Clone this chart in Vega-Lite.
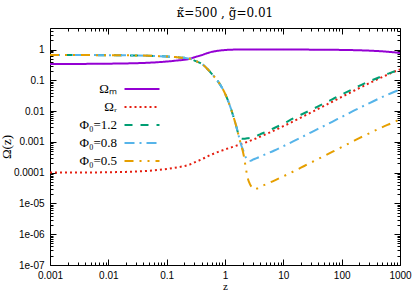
{
  "$schema": "https://vega.github.io/schema/vega-lite/v6.json",
  "width": 350,
  "height": 237,
  "autosize": {"type": "none"},
  "padding": {"left": 50, "top": 28, "right": 15, "bottom": 26},
  "background": "white",
  "title": {"text": "κ̃=500 , g̃=0.01", "font": "DejaVu Serif", "fontSize": 12, "fontWeight": "normal", "color": "black", "offset": 6, "anchor": "middle", "frame": "group"},
  "config": {
    "view": {"stroke": "black", "strokeWidth": 1},
    "axis": {"domain": false, "grid": false, "labelFont": "Liberation Sans", "labelFontSize": 10, "labelColor": "black", "tickColor": "black", "tickWidth": 1, "titleFont": "Liberation Serif", "titleFontSize": 13, "titleFontWeight": "normal", "titleColor": "black", "labelFlush": false, "labelOverlap": false},
    "legend": {"orient": "none", "legendX": 82, "legendY": 51, "title": null, "symbolType": "M-2,0H2", "symbolSize": 306, "symbolStrokeWidth": 2, "labelFont": "Liberation Serif", "labelFontSize": 13, "labelColor": "black", "labelAlign": "right", "labelOffset": -35, "rowPadding": 1, "padding": 0}
  },
  "data": {"values": [
    {"s":"Ωₘ","z":0.001,"v":0.341},{"s":"Ωₘ","z":0.002,"v":0.341},{"s":"Ωₘ","z":0.005,"v":0.342},{"s":"Ωₘ","z":0.01,"v":0.347},{"s":"Ωₘ","z":0.02,"v":0.353},{"s":"Ωₘ","z":0.05,"v":0.373},{"s":"Ωₘ","z":0.1,"v":0.407},{"s":"Ωₘ","z":0.15,"v":0.439},{"s":"Ωₘ","z":0.2,"v":0.463},{"s":"Ωₘ","z":0.25,"v":0.499},{"s":"Ωₘ","z":0.3,"v":0.563},{"s":"Ωₘ","z":0.35,"v":0.611},{"s":"Ωₘ","z":0.4,"v":0.659},{"s":"Ωₘ","z":0.5,"v":0.766},{"s":"Ωₘ","z":0.6,"v":0.842},{"s":"Ωₘ","z":0.7,"v":0.888},{"s":"Ωₘ","z":0.8,"v":0.920},{"s":"Ωₘ","z":0.9,"v":0.945},{"s":"Ωₘ","z":1.0,"v":0.963},{"s":"Ωₘ","z":1.1,"v":0.975},{"s":"Ωₘ","z":1.2,"v":0.984},{"s":"Ωₘ","z":1.5,"v":0.995},{"s":"Ωₘ","z":2,"v":0.999},{"s":"Ωₘ","z":3,"v":0.999},{"s":"Ωₘ","z":5,"v":0.998},{"s":"Ωₘ","z":7,"v":0.998},{"s":"Ωₘ","z":10,"v":0.997},{"s":"Ωₘ","z":15,"v":0.995},{"s":"Ωₘ","z":20,"v":0.994},{"s":"Ωₘ","z":30,"v":0.991},{"s":"Ωₘ","z":50,"v":0.985},{"s":"Ωₘ","z":70,"v":0.980},{"s":"Ωₘ","z":100,"v":0.971},{"s":"Ωₘ","z":150,"v":0.957},{"s":"Ωₘ","z":200,"v":0.944},{"s":"Ωₘ","z":300,"v":0.919},{"s":"Ωₘ","z":500,"v":0.872},{"s":"Ωₘ","z":700,"v":0.829},{"s":"Ωₘ","z":1000,"v":0.773},
    {"s":"Ωᵣ","z":0.001,"v":0.0001004},{"s":"Ωᵣ","z":0.002,"v":0.0001005},{"s":"Ωᵣ","z":0.005,"v":0.0001011},{"s":"Ωᵣ","z":0.01,"v":0.0001031},{"s":"Ωᵣ","z":0.02,"v":0.0001059},{"s":"Ωᵣ","z":0.05,"v":0.0001152},{"s":"Ωᵣ","z":0.1,"v":0.0001317},{"s":"Ωᵣ","z":0.15,"v":0.0001485},{"s":"Ωᵣ","z":0.2,"v":0.0001634},{"s":"Ωᵣ","z":0.25,"v":0.0001835},{"s":"Ωᵣ","z":0.3,"v":0.0002153},{"s":"Ωᵣ","z":0.35,"v":0.0002426},{"s":"Ωᵣ","z":0.4,"v":0.0002714},{"s":"Ωᵣ","z":0.5,"v":0.0003379},{"s":"Ωᵣ","z":0.6,"v":0.0003962},{"s":"Ωᵣ","z":0.7,"v":0.000444},{"s":"Ωᵣ","z":0.8,"v":0.000487},{"s":"Ωᵣ","z":0.9,"v":0.000528},{"s":"Ωᵣ","z":1.0,"v":0.0005674},{"s":"Ωᵣ","z":1.2,"v":0.0006368},{"s":"Ωᵣ","z":1.5,"v":0.000732},{"s":"Ωᵣ","z":2,"v":0.000881},{"s":"Ωᵣ","z":3,"v":0.001175},{"s":"Ωᵣ","z":5,"v":0.001762},{"s":"Ωᵣ","z":7,"v":0.002347},{"s":"Ωᵣ","z":10,"v":0.003225},{"s":"Ωᵣ","z":15,"v":0.004684},{"s":"Ωᵣ","z":20,"v":0.006139},{"s":"Ωᵣ","z":30,"v":0.009035},{"s":"Ωᵣ","z":50,"v":0.01478},{"s":"Ωᵣ","z":70,"v":0.02046},{"s":"Ωᵣ","z":100,"v":0.02885},{"s":"Ωᵣ","z":150,"v":0.04252},{"s":"Ωᵣ","z":200,"v":0.05582},{"s":"Ωᵣ","z":300,"v":0.08133},{"s":"Ωᵣ","z":500,"v":0.1284},{"s":"Ωᵣ","z":700,"v":0.1709},{"s":"Ωᵣ","z":1000,"v":0.2274},
    {"s":"Φ₀=1.2","z":0.001,"v":0.659},{"s":"Φ₀=1.2","z":0.002,"v":0.659},{"s":"Φ₀=1.2","z":0.005,"v":0.658},{"s":"Φ₀=1.2","z":0.01,"v":0.653},{"s":"Φ₀=1.2","z":0.02,"v":0.647},{"s":"Φ₀=1.2","z":0.03,"v":0.641},{"s":"Φ₀=1.2","z":0.05,"v":0.627},{"s":"Φ₀=1.2","z":0.07,"v":0.612},{"s":"Φ₀=1.2","z":0.1,"v":0.593},{"s":"Φ₀=1.2","z":0.15,"v":0.561},{"s":"Φ₀=1.2","z":0.2,"v":0.537},{"s":"Φ₀=1.2","z":0.25,"v":0.501},{"s":"Φ₀=1.2","z":0.3,"v":0.437},{"s":"Φ₀=1.2","z":0.35,"v":0.389},{"s":"Φ₀=1.2","z":0.4,"v":0.341},{"s":"Φ₀=1.2","z":0.5,"v":0.234},{"s":"Φ₀=1.2","z":0.6,"v":0.158},{"s":"Φ₀=1.2","z":0.7,"v":0.112},{"s":"Φ₀=1.2","z":0.8,"v":0.0794},{"s":"Φ₀=1.2","z":0.9,"v":0.055},{"s":"Φ₀=1.2","z":1.0,"v":0.0372},{"s":"Φ₀=1.2","z":1.1,"v":0.0245},{"s":"Φ₀=1.2","z":1.2,"v":0.0158},{"s":"Φ₀=1.2","z":1.3,"v":0.0102},{"s":"Φ₀=1.2","z":1.4,"v":0.00646},{"s":"Φ₀=1.2","z":1.5,"v":0.00417},{"s":"Φ₀=1.2","z":1.6,"v":0.00269},{"s":"Φ₀=1.2","z":1.7,"v":0.0017},{"s":"Φ₀=1.2","z":1.75,"v":0.0014},{"s":"Φ₀=1.2","z":1.8,"v":0.00132},{"s":"Φ₀=1.2","z":1.9,"v":0.00127},{"s":"Φ₀=1.2","z":2.0,"v":0.00126},{"s":"Φ₀=1.2","z":2.2,"v":0.00127},{"s":"Φ₀=1.2","z":2.5,"v":0.00132},{"s":"Φ₀=1.2","z":3,"v":0.00141},{"s":"Φ₀=1.2","z":3.5,"v":0.00158},{"s":"Φ₀=1.2","z":4,"v":0.00176},{"s":"Φ₀=1.2","z":5,"v":0.00209},{"s":"Φ₀=1.2","z":7,"v":0.00282},{"s":"Φ₀=1.2","z":10,"v":0.00389},{"s":"Φ₀=1.2","z":15,"v":0.00589},{"s":"Φ₀=1.2","z":20,"v":0.00759},{"s":"Φ₀=1.2","z":30,"v":0.01096},{"s":"Φ₀=1.2","z":50,"v":0.0178},{"s":"Φ₀=1.2","z":70,"v":0.0243},{"s":"Φ₀=1.2","z":100,"v":0.0347},{"s":"Φ₀=1.2","z":150,"v":0.0501},{"s":"Φ₀=1.2","z":200,"v":0.0661},{"s":"Φ₀=1.2","z":300,"v":0.0933},{"s":"Φ₀=1.2","z":500,"v":0.138},{"s":"Φ₀=1.2","z":700,"v":0.178},{"s":"Φ₀=1.2","z":1000,"v":0.219},
    {"s":"Φ₀=0.8","z":0.001,"v":0.659},{"s":"Φ₀=0.8","z":0.002,"v":0.659},{"s":"Φ₀=0.8","z":0.005,"v":0.658},{"s":"Φ₀=0.8","z":0.01,"v":0.653},{"s":"Φ₀=0.8","z":0.02,"v":0.647},{"s":"Φ₀=0.8","z":0.03,"v":0.641},{"s":"Φ₀=0.8","z":0.05,"v":0.627},{"s":"Φ₀=0.8","z":0.07,"v":0.612},{"s":"Φ₀=0.8","z":0.1,"v":0.593},{"s":"Φ₀=0.8","z":0.15,"v":0.561},{"s":"Φ₀=0.8","z":0.2,"v":0.537},{"s":"Φ₀=0.8","z":0.25,"v":0.501},{"s":"Φ₀=0.8","z":0.3,"v":0.437},{"s":"Φ₀=0.8","z":0.35,"v":0.389},{"s":"Φ₀=0.8","z":0.4,"v":0.341},{"s":"Φ₀=0.8","z":0.5,"v":0.234},{"s":"Φ₀=0.8","z":0.6,"v":0.158},{"s":"Φ₀=0.8","z":0.7,"v":0.112},{"s":"Φ₀=0.8","z":0.8,"v":0.0794},{"s":"Φ₀=0.8","z":0.9,"v":0.055},{"s":"Φ₀=0.8","z":1.0,"v":0.0372},{"s":"Φ₀=0.8","z":1.1,"v":0.0245},{"s":"Φ₀=0.8","z":1.2,"v":0.0158},{"s":"Φ₀=0.8","z":1.3,"v":0.0102},{"s":"Φ₀=0.8","z":1.4,"v":0.00646},{"s":"Φ₀=0.8","z":1.5,"v":0.00417},{"s":"Φ₀=0.8","z":1.6,"v":0.00269},{"s":"Φ₀=0.8","z":1.7,"v":0.0017},{"s":"Φ₀=0.8","z":1.75,"v":0.00135},{"s":"Φ₀=0.8","z":1.8,"v":0.0011},{"s":"Φ₀=0.8","z":1.85,"v":0.000912},{"s":"Φ₀=0.8","z":1.9,"v":0.000776},{"s":"Φ₀=0.8","z":2.0,"v":0.000603},{"s":"Φ₀=0.8","z":2.1,"v":0.000468},{"s":"Φ₀=0.8","z":2.2,"v":0.000363},{"s":"Φ₀=0.8","z":2.3,"v":0.000295},{"s":"Φ₀=0.8","z":2.4,"v":0.000257},{"s":"Φ₀=0.8","z":2.5,"v":0.00024},{"s":"Φ₀=0.8","z":2.6,"v":0.000237},{"s":"Φ₀=0.8","z":2.8,"v":0.000245},{"s":"Φ₀=0.8","z":3.0,"v":0.000263},{"s":"Φ₀=0.8","z":3.5,"v":0.000295},{"s":"Φ₀=0.8","z":4,"v":0.000331},{"s":"Φ₀=0.8","z":5,"v":0.000398},{"s":"Φ₀=0.8","z":7,"v":0.000525},{"s":"Φ₀=0.8","z":10,"v":0.000724},{"s":"Φ₀=0.8","z":15,"v":0.00105},{"s":"Φ₀=0.8","z":20,"v":0.00138},{"s":"Φ₀=0.8","z":30,"v":0.00204},{"s":"Φ₀=0.8","z":50,"v":0.00331},{"s":"Φ₀=0.8","z":70,"v":0.00457},{"s":"Φ₀=0.8","z":100,"v":0.00646},{"s":"Φ₀=0.8","z":150,"v":0.00955},{"s":"Φ₀=0.8","z":200,"v":0.0126},{"s":"Φ₀=0.8","z":300,"v":0.0182},{"s":"Φ₀=0.8","z":500,"v":0.0288},{"s":"Φ₀=0.8","z":700,"v":0.038},{"s":"Φ₀=0.8","z":1000,"v":0.0501},
    {"s":"Φ₀=0.5","z":0.001,"v":0.659},{"s":"Φ₀=0.5","z":0.002,"v":0.659},{"s":"Φ₀=0.5","z":0.005,"v":0.658},{"s":"Φ₀=0.5","z":0.01,"v":0.653},{"s":"Φ₀=0.5","z":0.02,"v":0.647},{"s":"Φ₀=0.5","z":0.03,"v":0.641},{"s":"Φ₀=0.5","z":0.05,"v":0.627},{"s":"Φ₀=0.5","z":0.07,"v":0.612},{"s":"Φ₀=0.5","z":0.1,"v":0.593},{"s":"Φ₀=0.5","z":0.15,"v":0.561},{"s":"Φ₀=0.5","z":0.2,"v":0.537},{"s":"Φ₀=0.5","z":0.25,"v":0.501},{"s":"Φ₀=0.5","z":0.3,"v":0.437},{"s":"Φ₀=0.5","z":0.35,"v":0.389},{"s":"Φ₀=0.5","z":0.4,"v":0.341},{"s":"Φ₀=0.5","z":0.5,"v":0.234},{"s":"Φ₀=0.5","z":0.6,"v":0.158},{"s":"Φ₀=0.5","z":0.7,"v":0.112},{"s":"Φ₀=0.5","z":0.8,"v":0.0794},{"s":"Φ₀=0.5","z":0.9,"v":0.055},{"s":"Φ₀=0.5","z":1.0,"v":0.0372},{"s":"Φ₀=0.5","z":1.1,"v":0.0245},{"s":"Φ₀=0.5","z":1.2,"v":0.0158},{"s":"Φ₀=0.5","z":1.3,"v":0.0102},{"s":"Φ₀=0.5","z":1.4,"v":0.00646},{"s":"Φ₀=0.5","z":1.5,"v":0.00417},{"s":"Φ₀=0.5","z":1.6,"v":0.00269},{"s":"Φ₀=0.5","z":1.7,"v":0.0017},{"s":"Φ₀=0.5","z":1.75,"v":0.00135},{"s":"Φ₀=0.5","z":1.8,"v":0.0011},{"s":"Φ₀=0.5","z":1.85,"v":0.000912},{"s":"Φ₀=0.5","z":1.9,"v":0.000759},{"s":"Φ₀=0.5","z":2.0,"v":0.000537},{"s":"Φ₀=0.5","z":2.1,"v":0.000355},{"s":"Φ₀=0.5","z":2.2,"v":0.000209},{"s":"Φ₀=0.5","z":2.3,"v":0.000126},{"s":"Φ₀=0.5","z":2.4,"v":0.0000794},{"s":"Φ₀=0.5","z":2.5,"v":0.0000589},{"s":"Φ₀=0.5","z":2.6,"v":0.0000479},{"s":"Φ₀=0.5","z":2.7,"v":0.0000407},{"s":"Φ₀=0.5","z":2.8,"v":0.0000363},{"s":"Φ₀=0.5","z":3.0,"v":0.0000309},{"s":"Φ₀=0.5","z":3.2,"v":0.0000288},{"s":"Φ₀=0.5","z":3.5,"v":0.0000302},{"s":"Φ₀=0.5","z":4,"v":0.0000347},{"s":"Φ₀=0.5","z":5,"v":0.0000417},{"s":"Φ₀=0.5","z":7,"v":0.000055},{"s":"Φ₀=0.5","z":10,"v":0.0000759},{"s":"Φ₀=0.5","z":15,"v":0.00011},{"s":"Φ₀=0.5","z":20,"v":0.000145},{"s":"Φ₀=0.5","z":30,"v":0.000214},{"s":"Φ₀=0.5","z":50,"v":0.000347},{"s":"Φ₀=0.5","z":70,"v":0.000479},{"s":"Φ₀=0.5","z":100,"v":0.000676},{"s":"Φ₀=0.5","z":150,"v":0.001},{"s":"Φ₀=0.5","z":200,"v":0.00132},{"s":"Φ₀=0.5","z":300,"v":0.00191},{"s":"Φ₀=0.5","z":500,"v":0.00302},{"s":"Φ₀=0.5","z":700,"v":0.00398},{"s":"Φ₀=0.5","z":1000,"v":0.00537}
  ]},
  "resolve": {"axis": {"x": "independent", "y": "independent"}},
  "layer": [
    {
      "mark": {"type": "line", "strokeWidth": 2, "clip": true, "interpolate": "monotone"},
      "encoding": {
        "x": {"field": "z", "type": "quantitative", "scale": {"type": "log", "domain": [0.001, 1000], "nice": false},
          "axis": {"orient": "bottom", "title": "z", "titleFontSize": 11, "titleY": 24, "titleBaseline": "alphabetic",
            "values": [0.001,0.002,0.003,0.004,0.005,0.006,0.007,0.008,0.009,0.01,0.02,0.03,0.04,0.05,0.06,0.07,0.08,0.09,0.1,0.2,0.3,0.4,0.5,0.6,0.7,0.8,0.9,1,2,3,4,5,6,7,8,9,10,20,30,40,50,60,70,80,90,100,200,300,400,500,600,700,800,900,1000],
            "labelExpr": "abs(log(datum.value)/LN10 - round(log(datum.value)/LN10)) < 0.001 ? '' + datum.value : ''",
            "tickSize": {"condition": {"test": "abs(log(datum.value)/LN10 - round(log(datum.value)/LN10)) < 0.001", "value": -6}, "value": -3},
            "labelPadding": 11}},
        "y": {"field": "v", "type": "quantitative", "scale": {"type": "log", "domain": [1e-7, 5], "nice": false},
          "axis": {"orient": "left", "title": "Ω(z)", "titleX": -40, "titleBaseline": "alphabetic",
            "values": [1e-7,2e-7,3e-7,4e-7,5e-7,6e-7,7e-7,8e-7,9e-7,1e-6,2e-6,3e-6,4e-6,5e-6,6e-6,7e-6,8e-6,9e-6,1e-5,2e-5,3e-5,4e-5,5e-5,6e-5,7e-5,8e-5,9e-5,0.0001,0.0002,0.0003,0.0004,0.0005,0.0006,0.0007,0.0008,0.0009,0.001,0.002,0.003,0.004,0.005,0.006,0.007,0.008,0.009,0.01,0.02,0.03,0.04,0.05,0.06,0.07,0.08,0.09,0.1,0.2,0.3,0.4,0.5,0.6,0.7,0.8,0.9,1,2,3,4],
            "labelExpr": "abs(log(datum.value)/LN10 - round(log(datum.value)/LN10)) > 0.001 ? '' : (datum.value < 0.00005 ? '1e-0' + round(-log(datum.value)/LN10) : '' + datum.value)",
            "tickSize": {"condition": {"test": "abs(log(datum.value)/LN10 - round(log(datum.value)/LN10)) < 0.001", "value": -6}, "value": -3},
            "labelPadding": 12}},
        "color": {"field": "s", "type": "nominal", "sort": null,
          "scale": {"domain": ["Ωₘ","Ωᵣ","Φ₀=1.2","Φ₀=0.8","Φ₀=0.5"], "range": ["#9400d3","#e51e10","#009e73","#56b4e9","#e69f00"]}},
        "strokeDash": {"field": "s", "type": "nominal", "sort": null,
          "scale": {"domain": ["Ωₘ","Ωᵣ","Φ₀=1.2","Φ₀=0.8","Φ₀=0.5"], "range": [[1,0],[2,3],[8,8],[10,5,2,5],[9,6,2,6,2,6]]}}
      }
    },
    {
      "mark": {"type": "point", "opacity": 0},
      "encoding": {
        "x": {"field": "z", "type": "quantitative", "scale": {"type": "log", "domain": [0.001, 1000], "nice": false},
          "axis": {"orient": "top", "title": null, "labels": false,
            "values": [0.001,0.002,0.003,0.004,0.005,0.006,0.007,0.008,0.009,0.01,0.02,0.03,0.04,0.05,0.06,0.07,0.08,0.09,0.1,0.2,0.3,0.4,0.5,0.6,0.7,0.8,0.9,1,2,3,4,5,6,7,8,9,10,20,30,40,50,60,70,80,90,100,200,300,400,500,600,700,800,900,1000],
            "tickSize": {"condition": {"test": "abs(log(datum.value)/LN10 - round(log(datum.value)/LN10)) < 0.001", "value": -6}, "value": -3}}},
        "y": {"field": "v", "type": "quantitative", "scale": {"type": "log", "domain": [1e-7, 5], "nice": false},
          "axis": {"orient": "right", "title": null, "labels": false,
            "values": [1e-7,2e-7,3e-7,4e-7,5e-7,6e-7,7e-7,8e-7,9e-7,1e-6,2e-6,3e-6,4e-6,5e-6,6e-6,7e-6,8e-6,9e-6,1e-5,2e-5,3e-5,4e-5,5e-5,6e-5,7e-5,8e-5,9e-5,0.0001,0.0002,0.0003,0.0004,0.0005,0.0006,0.0007,0.0008,0.0009,0.001,0.002,0.003,0.004,0.005,0.006,0.007,0.008,0.009,0.01,0.02,0.03,0.04,0.05,0.06,0.07,0.08,0.09,0.1,0.2,0.3,0.4,0.5,0.6,0.7,0.8,0.9,1,2,3,4],
            "tickSize": {"condition": {"test": "abs(log(datum.value)/LN10 - round(log(datum.value)/LN10)) < 0.001", "value": -6}, "value": -3}}}
      }
    }
  ]
}
